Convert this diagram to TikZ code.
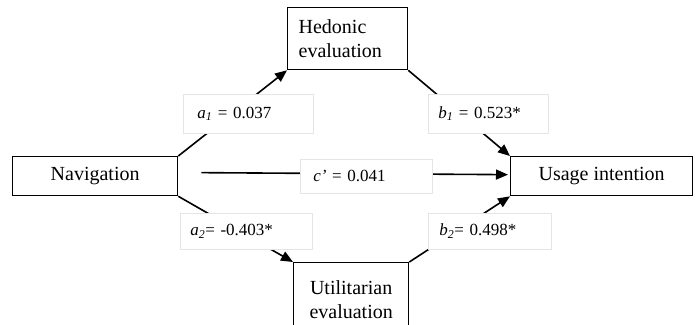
\documentclass[tikz,border=0pt]{standalone}
\usepackage{fontspec}
\setmainfont{Liberation Serif}
\usetikzlibrary{arrows.meta,calc}
\begin{document}
\begin{tikzpicture}[x=1pt,y=-1pt,
  box/.style={draw=black,line width=1.3pt,fill=white,inner ysep=0pt,font=\fontsize{20}{24}\selectfont},
  lbl/.style={draw=black!10,line width=0.6pt,fill=white,inner ysep=0pt,align=left,anchor=north west,font=\fontsize{17}{20}\selectfont},
  conn/.style={line width=1.6pt},
  arr/.style={conn,-{Triangle[length=12pt,width=10pt]}}]
\useasboundingbox (0,0) rectangle (696,324);
\clip (0,0) rectangle (696,324);
% boxes
\node[box,anchor=north west,minimum width=165pt,minimum height=39pt] (nav) at (12,156) {Navigation};
\node[box,anchor=north west,minimum width=182pt,minimum height=39pt] (use) at (510,156) {Usage intention};
\node[box,anchor=north west,minimum height=62pt,text width=98pt,inner xsep=11pt,align=left] (hed) at (287,7) {\raisebox{-2pt}{\parbox{98pt}{Hedonic\\evaluation}}};
\node[box,anchor=north west,minimum height=75pt,text width=115pt,inner xsep=0pt,align=center] (uti) at (293,262) {\raisebox{4pt}{\parbox{115pt}{\centering Utilitarian\\evaluation}}};
% connectors
\draw[arr] (nav.north east) -- (hed.south west);
\draw[arr] (hed.south east) -- (use.north west);
\draw[arr] (nav.south east) -- (uti.north west);
\draw[arr] (uti.north east) -- (use.south west);
\draw[arr] ([shift={(23,-3.5)}]nav.east) -- ([shift={(-2,-1.5)}]use.west);
% labels
\node[lbl,minimum width=130pt,minimum height=39pt,text width=102pt,inner xsep=14pt] (la1) at (183,94) {{\itshape a\textsubscript{1}}~= 0.037};
\node[lbl,minimum width=120pt,minimum height=39pt,text width=100pt,inner xsep=10pt] (lb1) at (428,94) {{\itshape b\textsubscript{1}}~= 0.523*};
\node[lbl,minimum width=119pt,minimum height=34pt,text width=106pt,inner xsep=13pt] (lc) at (300,159) {{\itshape c’}~= 0.041};
\node[lbl,minimum width=122pt,minimum height=36pt,text width=112pt,inner xsep=10pt] (la2) at (180,213) {{\itshape a\textsubscript{2}}= -0.403*};
\node[lbl,minimum width=112pt,minimum height=36pt,text width=101pt,inner xsep=11pt] (lb2) at (428,213) {{\itshape b\textsubscript{2}}= 0.498*};
\end{tikzpicture}
\end{document}
